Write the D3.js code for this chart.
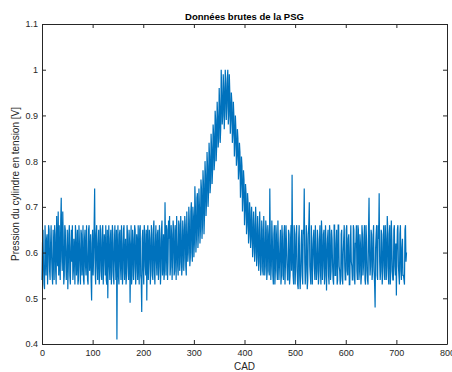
<!DOCTYPE html>
<html>
<head>
<meta charset="utf-8">
<script src="https://cdn.jsdelivr.net/npm/d3@7"></script>
<style>
  body { margin: 0; background: #fff; }
  svg { font-family: "Liberation Sans", Arial, sans-serif; }
</style>
</head>
<body>
<div id="container"></div>
<script>
/* CONSTANTS AND GLOBALS */
const width = 452,
  height = 372,
  margin = { top: 24, right: 5, bottom: 28, left: 42 };

/* DATA (one value per CAD) */
const xTicks = [0, 100, 200, 300, 400, 500, 600, 700, 800];
const yTicks = [0.4, 0.5, 0.6, 0.7, 0.8, 0.9, 1, 1.1];

const cadStep = 1;
const pression = [
  // 0 - 19
  0.54,0.62,0.65,0.57,0.53,0.52,0.66,0.60,0.55,0.63,0.64,0.53,0.58,0.66,0.65,0.56,0.54,0.62,0.66,0.59,
  // 20 - 39
  0.55,0.53,0.65,0.61,0.54,0.66,0.64,0.56,0.53,0.68,0.60,0.57,0.69,0.55,0.66,0.58,0.54,0.67,0.72,0.59,
  // 40 - 59
  0.56,0.69,0.63,0.53,0.55,0.66,0.65,0.58,0.54,0.60,0.65,0.52,0.57,0.64,0.66,0.55,0.53,0.61,0.65,0.58,
  // 60 - 79
  0.66,0.54,0.56,0.63,0.61,0.53,0.66,0.64,0.55,0.58,0.65,0.53,0.54,0.66,0.62,0.57,0.53,0.65,0.64,0.55,
  // 80 - 99
  0.58,0.66,0.54,0.53,0.63,0.65,0.57,0.55,0.66,0.60,0.54,0.53,0.65,0.66,0.56,0.58,0.64,0.54,0.495,0.62,
  // 100 - 119
  0.65,0.55,0.59,0.66,0.74,0.56,0.53,0.64,0.66,0.57,0.54,0.62,0.65,0.53,0.55,0.66,0.63,0.56,0.54,0.65,
  // 120 - 139
  0.66,0.53,0.58,0.64,0.62,0.55,0.66,0.54,0.53,0.65,0.50,0.61,0.66,0.57,0.54,0.63,0.65,0.53,0.56,0.66,
  // 140 - 159
  0.64,0.55,0.53,0.62,0.66,0.58,0.54,0.65,0.41,0.60,0.66,0.55,0.53,0.64,0.65,0.57,0.54,0.66,0.62,0.53,
  // 160 - 179
  0.56,0.65,0.66,0.54,0.58,0.63,0.53,0.55,0.66,0.64,0.57,0.54,0.65,0.62,0.49,0.59,0.66,0.53,0.55,0.65,
  // 180 - 199
  0.63,0.54,0.57,0.66,0.65,0.53,0.56,0.64,0.62,0.54,0.66,0.58,0.53,0.65,0.66,0.55,0.54,0.47,0.63,0.65,
  // 200 - 219
  0.56,0.53,0.66,0.64,0.57,0.55,0.65,0.495,0.62,0.66,0.54,0.58,0.65,0.63,0.53,0.56,0.66,0.64,0.55,0.54,
  // 220 - 239
  0.65,0.67,0.56,0.53,0.62,0.66,0.58,0.55,0.64,0.65,0.54,0.57,0.66,0.63,0.53,0.56,0.65,0.67,0.55,0.58,
  // 240 - 259
  0.64,0.54,0.56,0.71,0.62,0.55,0.66,0.65,0.54,0.58,0.67,0.63,0.68,0.55,0.57,0.66,0.64,0.54,0.59,0.67,
  // 260 - 279
  0.65,0.55,0.56,0.66,0.63,0.54,0.68,0.62,0.57,0.55,0.67,0.66,0.56,0.58,0.68,0.64,0.55,0.57,0.67,0.65,
  // 280 - 299
  0.56,0.59,0.68,0.66,0.57,0.55,0.69,0.64,0.58,0.60,0.70,0.67,0.57,0.59,0.69,0.71,0.60,0.58,0.70,0.68,
  // 300 - 319
  0.59,0.62,0.745,0.70,0.60,0.63,0.72,0.73,0.61,0.64,0.74,0.70,0.62,0.65,0.76,0.74,0.63,0.66,0.78,0.75,
  // 320 - 339
  0.64,0.68,0.80,0.77,0.68,0.71,0.82,0.79,0.70,0.73,0.84,0.81,0.73,0.75,0.86,0.83,0.75,0.78,0.88,0.86,
  // 340 - 359
  0.78,0.80,0.91,0.89,0.80,0.83,0.93,0.90,0.83,0.85,0.96,0.92,0.84,0.87,1.00,0.95,0.88,0.90,0.99,0.96,
  // 360 - 379
  0.87,0.91,1.00,0.97,0.89,0.92,0.98,1.00,0.88,0.90,0.99,0.95,0.86,0.89,0.95,0.93,0.84,0.86,0.93,0.90,
  // 380 - 399
  0.81,0.84,0.90,0.87,0.79,0.81,0.87,0.85,0.76,0.78,0.84,0.82,0.72,0.75,0.81,0.79,0.69,0.72,0.78,0.76,
  // 400 - 419
  0.66,0.69,0.75,0.73,0.64,0.66,0.73,0.71,0.62,0.64,0.71,0.69,0.61,0.63,0.70,0.67,0.59,0.61,0.69,0.66,
  // 420 - 439
  0.58,0.60,0.70,0.66,0.57,0.59,0.68,0.65,0.56,0.58,0.69,0.64,0.55,0.57,0.67,0.65,0.56,0.55,0.68,0.63,
  // 440 - 459
  0.55,0.57,0.67,0.65,0.54,0.56,0.66,0.64,0.56,0.55,0.74,0.62,0.54,0.57,0.67,0.63,0.55,0.53,0.64,0.66,
  // 460 - 479
  0.53,0.56,0.66,0.64,0.56,0.54,0.67,0.61,0.54,0.57,0.62,0.65,0.53,0.55,0.66,0.63,0.55,0.54,0.64,0.66,
  // 480 - 499
  0.53,0.58,0.66,0.62,0.57,0.54,0.54,0.65,0.64,0.53,0.55,0.63,0.66,0.56,0.77,0.60,0.55,0.53,0.66,0.64,
  // 500 - 519
  0.53,0.57,0.64,0.66,0.56,0.53,0.52,0.63,0.66,0.55,0.52,0.56,0.62,0.65,0.55,0.53,0.65,0.64,0.74,0.58,
  // 520 - 539
  0.53,0.56,0.66,0.63,0.52,0.54,0.64,0.66,0.71,0.57,0.55,0.53,0.66,0.62,0.53,0.58,0.63,0.65,0.57,0.54,
  // 540 - 559
  0.66,0.60,0.54,0.56,0.65,0.63,0.53,0.55,0.62,0.66,0.56,0.53,0.67,0.64,0.54,0.57,0.64,0.65,0.53,0.55,
  // 560 - 579
  0.66,0.62,0.517,0.58,0.63,0.65,0.55,0.53,0.66,0.64,0.54,0.56,0.65,0.63,0.57,0.54,0.53,0.66,0.66,0.55,
  // 580 - 599
  0.55,0.62,0.65,0.53,0.54,0.66,0.66,0.57,0.56,0.53,0.54,0.64,0.65,0.55,0.53,0.60,0.63,0.66,0.57,0.54,
  // 600 - 619
  0.54,0.65,0.66,0.56,0.55,0.63,0.64,0.53,0.53,0.61,0.66,0.58,0.57,0.54,0.54,0.66,0.65,0.55,0.53,0.62,
  // 620 - 639
  0.62,0.66,0.56,0.54,0.66,0.65,0.54,0.56,0.64,0.62,0.53,0.55,0.66,0.64,0.55,0.57,0.63,0.66,0.54,0.53,
  // 640 - 659
  0.66,0.63,0.56,0.54,0.53,0.65,0.72,0.60,0.55,0.57,0.65,0.64,0.54,0.56,0.63,0.66,0.56,0.53,0.48,0.61,
  // 660 - 679
  0.64,0.66,0.55,0.54,0.66,0.63,0.73,0.58,0.54,0.56,0.65,0.64,0.53,0.55,0.62,0.66,0.57,0.54,0.66,0.63,
  // 680 - 699
  0.54,0.57,0.68,0.65,0.55,0.53,0.64,0.66,0.53,0.56,0.67,0.63,0.56,0.54,0.54,0.65,0.66,0.57,0.55,0.62,
  // 700 - 719
  0.506,0.60,0.65,0.66,0.57,0.55,0.53,0.64,0.66,0.56,0.54,0.61,0.63,0.55,0.55,0.54,0.53,0.65,0.66,0.58,
  // 720
  0.60
];

const data = pression.map((v, i) => ({ CAD: i * cadStep, V: v }));

// SCALES
const xScale = d3.scaleLinear()
  .domain([0, 800])
  .range([margin.left, width - margin.right]);

const yScale = d3.scaleLinear()
  .domain([0.4, 1.1])
  .range([height - margin.bottom, margin.top]);

// CREATE SVG ELEMENT
const svg = d3.select("#container")
  .append("svg")
  .attr("width", width)
  .attr("height", height);

// LINE
const lineGen = d3.line()
  .x(d => xScale(d.CAD))
  .y(d => yScale(d.V));

svg.append("path")
  .datum(data)
  .attr("fill", "none")
  .attr("stroke", "#0072BD")
  .attr("stroke-width", 1.2)
  .attr("stroke-linejoin", "miter")
  .attr("d", lineGen);

// AXES (ticks inside, box all round)
const axisColor = "#262626";

const styleAxis = g => {
  g.select(".domain").attr("stroke", axisColor).attr("stroke-width", 1);
  g.selectAll(".tick line").attr("stroke", axisColor);
  g.selectAll(".tick text").attr("fill", axisColor).attr("font-size", 9);
  g.attr("font-family", null);
};

svg.append("g")
  .attr("transform", `translate(0,${height - margin.bottom})`)
  .call(d3.axisBottom(xScale).tickValues(xTicks).tickSize(-4).tickSizeOuter(0).tickPadding(6))
  .call(styleAxis);

svg.append("g")
  .attr("transform", `translate(0,${margin.top})`)
  .call(d3.axisTop(xScale).tickValues(xTicks).tickSize(-4).tickSizeOuter(0).tickFormat(""))
  .call(styleAxis);

svg.append("g")
  .attr("transform", `translate(${margin.left},0)`)
  .call(d3.axisLeft(yScale).tickValues(yTicks).tickSize(-4).tickSizeOuter(0).tickPadding(4).tickFormat(d => String(d)))
  .call(styleAxis);

svg.append("g")
  .attr("transform", `translate(${width - margin.right},0)`)
  .call(d3.axisRight(yScale).tickValues(yTicks).tickSize(-4).tickSizeOuter(0).tickFormat(""))
  .call(styleAxis);

// LABELS
svg.append("text")
  .attr("x", (margin.left + width - margin.right) / 2)
  .attr("y", 19.5)
  .attr("text-anchor", "middle")
  .attr("font-size", 9.5)
  .attr("font-weight", "bold")
  .attr("fill", "#000")
  .text("Données brutes de la PSG");

svg.append("text")
  .attr("x", (margin.left + width - margin.right) / 2)
  .attr("y", 370)
  .attr("text-anchor", "middle")
  .attr("font-size", 10)
  .attr("fill", axisColor)
  .text("CAD");

svg.append("text")
  .attr("transform", `translate(19,${(margin.top + height - margin.bottom) / 2}) rotate(-90)`)
  .attr("text-anchor", "middle")
  .attr("font-size", 10)
  .attr("fill", axisColor)
  .text("Pression du cylindre en tension [V]");
</script>
</body>
</html>
